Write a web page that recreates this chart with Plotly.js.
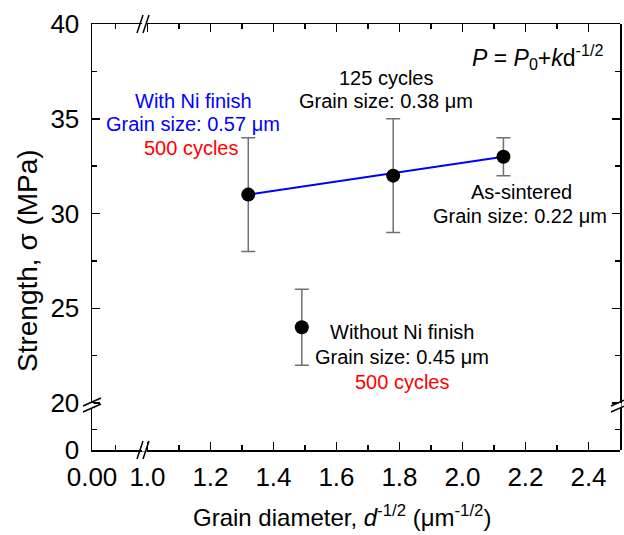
<!DOCTYPE html>
<html>
<head>
<meta charset="utf-8">
<script src="https://cdn.plot.ly/plotly-3.0.1.min.js"></script>
<style>html,body{margin:0;padding:0;background:#fff;}#chart{width:624px;height:535px;}</style>
</head>
<body>
<div id="chart"></div>
<script>
// ---- data ----
const grainX = [1.32, 1.78, 2.13, 1.49];        // d^-1/2 (µm^-1/2)
const strength = [31, 32, 33, 24];              // MPa
const strengthErr = [3, 3, 1, 2];               // MPa
const fitX = [1.32, 2.13];
const fitY = [31, 33];
const xTickLowVals = [0];
const xTickLowText = ['0.00'];
const yTickLowVals = [0];
const yTickLowText = ['0'];

// ---- geometry helpers (pixel -> paper) ----
const L = 92, R = 620, T = 24, B = 450, W = 624, H = 535;
const PW = R - L, PH = B - T;
const px = X => (X - L) / PW;
const py = Y => (B - Y) / PH;
const xBreak = 144, yBreak = 405;
const xd = px(xBreak), yd = py(yBreak);

const FONT = 'Arial, "Liberation Sans", sans-serif';
const axisCommon = {
  showline: true, linecolor: '#000', linewidth: 1.5,
  ticks: 'inside', ticklen: 8, tickwidth: 1.5, tickcolor: '#000',
  showgrid: false, zeroline: false, fixedrange: true,
  tickfont: {family: FONT, size: 26, color: '#000'}
};
const minorCommon = {ticks: 'inside', ticklen: 5, tickwidth: 1.5, tickcolor: '#000', showgrid: false};

// empty helper traces so that every axis segment gets its own subplot frame
const framePairs = [['x', 'y'], ['x2', 'y'], ['x', 'y2'], ['x3', 'y2'], ['x4', 'y2'], ['x2', 'y3'], ['x2', 'y4']];
const frameTraces = framePairs.map(p => ({x: [], y: [], xaxis: p[0], yaxis: p[1], type: 'scatter',
  mode: 'markers', hoverinfo: 'skip', showlegend: false}));

const traces = frameTraces.concat([
  {x: fitX, y: fitY, xaxis: 'x2', yaxis: 'y2', mode: 'lines',
   line: {color: '#0000ff', width: 2}, hoverinfo: 'skip', showlegend: false},
  {x: grainX, y: strength, xaxis: 'x2', yaxis: 'y2', mode: 'markers',
   marker: {color: '#000', size: 14},
   error_y: {type: 'data', array: strengthErr, visible: true, color: '#707070', thickness: 1.5, width: 7},
   showlegend: false}
]);

function ann(text, X, Y, size, color, extra) {
  return Object.assign({text: text, xref: 'paper', yref: 'paper', x: px(X), y: py(Y),
    xanchor: 'center', yanchor: 'middle', showarrow: false,
    font: {family: FONT, size: size, color: color}}, extra || {});
}

const annotations = [
  ann('<i>P</i> = <i>P</i><sub>0</sub>+<i>k</i>d<sup>-1/2</sup>', 537, 57, 23, '#000'),
  ann('125 cycles', 386, 78, 20, '#000'),
  ann('Grain size: 0.38 μm', 386, 101, 20, '#000'),
  ann('With Ni finish', 193, 101, 20, '#0000ff'),
  ann('Grain size: 0.57 μm', 193, 124, 20, '#0000ff'),
  ann('500 cycles', 191, 148, 20, '#ff0000'),
  ann('As-sintered', 521, 192, 20, '#000'),
  ann('Grain size: 0.22 μm', 520, 216, 20, '#000'),
  ann('Without Ni finish', 402, 332, 20, '#000'),
  ann('Grain size: 0.45 μm', 402, 357, 20, '#000'),
  ann('500 cycles', 402, 382, 20, '#ff0000'),
  ann('Grain diameter, <i>d</i><sup>-1/2</sup> (μm<sup>-1/2</sup>)', 342, 516, 24, '#000'),
  ann('Strength, σ (MPa)', 27, 261, 28, '#000', {textangle: -90})
];

// break marks
function seg(x0, y0, x1, y1, color, w) {
  return {type: 'line', xref: 'paper', yref: 'paper', x0: px(x0), y0: py(y0), x1: px(x1), y1: py(y1),
    line: {color: color || '#000', width: w || 1.5}};
}
const shapes = [];
[B, T].forEach(Y => {
  shapes.push(seg(xBreak - 2, Y, xBreak + 3, Y, '#fff', 3));
  shapes.push(seg(xBreak - 7, Y + 9, xBreak - 1, Y - 9));
  shapes.push(seg(xBreak - 1, Y + 9, xBreak + 5, Y - 9));
});
[L, R].forEach(X => {
  shapes.push(seg(X, yBreak - 2, X, yBreak + 3, '#fff', 3));
  shapes.push(seg(X - 9, yBreak + 7, X + 9, yBreak - 1));
  shapes.push(seg(X - 9, yBreak + 1, X + 9, yBreak - 7));
});

const xLowRange = [0, 0.055], xMainRange = [0.989, 2.5];
const yLowRange = [0, 11], yMainRange = [19.9, 40];

const layout = {
  width: W, height: H,
  margin: {l: L, r: W - R, t: T, b: H - B},
  paper_bgcolor: '#fff', plot_bgcolor: 'rgba(0,0,0,0)',
  showlegend: false,
  xaxis: Object.assign({}, axisCommon, {domain: [0, xd], range: xLowRange, anchor: 'y',
    tickmode: 'array', tickvals: xTickLowVals, ticktext: xTickLowText, ticklabelstandoff: 3,
    minor: Object.assign({}, minorCommon, {tickmode: 'array', tickvals: [0.025]})}),
  xaxis2: Object.assign({}, axisCommon, {domain: [xd, 1], range: xMainRange, anchor: 'y',
    tick0: 1.0, dtick: 0.2, tickformat: '.1f', ticklabelstandoff: 3,
    minor: Object.assign({}, minorCommon, {dtick: 0.1})}),
  xaxis3: Object.assign({}, axisCommon, {domain: [0, xd], range: xLowRange, anchor: 'y2', side: 'top',
    showticklabels: false, tickmode: 'array', tickvals: xTickLowVals,
    minor: Object.assign({}, minorCommon, {tickmode: 'array', tickvals: [0.025]})}),
  xaxis4: Object.assign({}, axisCommon, {domain: [xd, 1], range: xMainRange, anchor: 'y2', side: 'top',
    showticklabels: false, tick0: 1.0, dtick: 0.2,
    minor: Object.assign({}, minorCommon, {dtick: 0.1})}),
  yaxis: Object.assign({}, axisCommon, {domain: [0, yd], range: yLowRange, anchor: 'x',
    tickmode: 'array', tickvals: yTickLowVals, ticktext: yTickLowText, ticklabelstandoff: 6,
    minor: Object.assign({}, minorCommon, {tickmode: 'array', tickvals: [5]})}),
  yaxis2: Object.assign({}, axisCommon, {domain: [yd, 1], range: yMainRange, anchor: 'x',
    tick0: 20, dtick: 5, ticklabelstandoff: 6,
    minor: Object.assign({}, minorCommon, {dtick: 2.5})}),
  yaxis3: Object.assign({}, axisCommon, {domain: [0, yd], range: yLowRange, anchor: 'x2', side: 'right',
    showticklabels: false, tickmode: 'array', tickvals: yTickLowVals,
    minor: Object.assign({}, minorCommon, {tickmode: 'array', tickvals: [5]})}),
  yaxis4: Object.assign({}, axisCommon, {domain: [yd, 1], range: yMainRange, anchor: 'x2', side: 'right',
    showticklabels: false, tick0: 20, dtick: 5,
    minor: Object.assign({}, minorCommon, {dtick: 2.5})}),
  annotations: annotations,
  shapes: shapes
};

Plotly.newPlot('chart', traces, layout, {displayModeBar: false, staticPlot: true});
</script>
</body>
</html>
